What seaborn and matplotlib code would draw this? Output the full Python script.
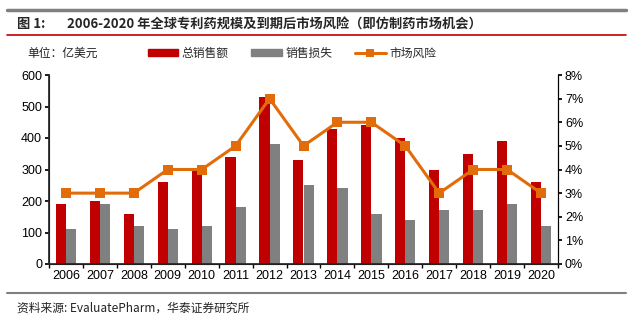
import numpy as np
import pandas as pd
import matplotlib
matplotlib.use("Agg")
import matplotlib.pyplot as plt
import seaborn as sns
from matplotlib.patches import Patch
from matplotlib.lines import Line2D

years = ["2006", "2007", "2008", "2009", "2010", "2011", "2012", "2013",
         "2014", "2015", "2016", "2017", "2018", "2019", "2020"]
total_sales = [190, 200, 160, 260, 300, 340, 530, 330, 430, 440, 400, 300, 350, 390, 260]
sales_loss = [110, 190, 120, 110, 120, 180, 380, 250, 240, 160, 140, 170, 170, 190, 120]
market_risk = [3, 3, 3, 4, 4, 5, 7, 5, 6, 6, 5, 3, 4, 4, 3]
series_names = ["总销售额", "销售损失", "市场风险"]

sns.set_theme(style="white")
plt.rcParams['font.family'] = ['Liberation Sans', 'Noto Sans CJK SC', 'DejaVu Sans']
cjk = ['Noto Sans CJK SC', 'DejaVu Sans']

RED = "#C00000"
GRAY = "#808080"
ORANGE = "#E36C0A"

df = pd.DataFrame({
    "year": years * 2,
    "value": total_sales + sales_loss,
    "series": [series_names[0]] * len(years) + [series_names[1]] * len(years),
})

fig = plt.figure(figsize=(6.33, 3.23), dpi=100)
ax = fig.add_axes([49 / 633, 1 - 264 / 323, (558 - 49) / 633, (264 - 75) / 323])

sns.barplot(data=df, x="year", y="value", hue="series", palette=[RED, GRAY],
            width=0.6, gap=0, ax=ax, legend=False, saturation=1, linewidth=0)
ax.set_ylim(0, 600)
ax.set_xlim(-0.5, len(years) - 0.5)
ax.set_yticks(range(0, 601, 100))
ax.set_xlabel("")
ax.set_ylabel("")
ax.tick_params(axis='y', which='major', length=3, direction='out', left=True,
               labelsize=9, pad=2, colors='black')
ax.tick_params(axis='x', which='major', length=0, labelsize=9, pad=4, colors='black')
ax.set_xticks(np.arange(-0.5, len(years), 1), minor=True)
ax.tick_params(axis='x', which='minor', length=3, direction='out', bottom=True, color='black')
ax.spines["top"].set_visible(False)
for s in ["left", "bottom", "right"]:
    ax.spines[s].set_color("black")
    ax.spines[s].set_linewidth(0.8)

ax2 = ax.twinx()
sns.lineplot(x=np.arange(len(years)), y=market_risk, ax=ax2, color=ORANGE,
             linewidth=2.2, marker='s', markersize=7, markeredgewidth=0, legend=False)
ax2.set_ylim(0, 8)
ax2.set_yticks(range(0, 9))
ax2.set_yticklabels([f"{v}%" for v in range(0, 9)])
ax2.tick_params(axis='y', length=3, direction='out', right=True, labelsize=9, pad=2, colors='black')
ax2.spines["top"].set_visible(False)
ax2.spines["right"].set_color("black")
ax2.spines["right"].set_linewidth(0.8)
ax2.set_ylabel("")
ax2.set_xlim(-0.5, len(years) - 0.5)

# header / footer rules
fig.add_artist(Line2D([7 / 633, 626 / 633], [1 - 10 / 323] * 2, color="#808080", linewidth=2.5))
fig.add_artist(Line2D([7 / 633, 626 / 633], [1 - 35 / 323] * 2, color="#C00000", linewidth=1.2))
fig.add_artist(Line2D([7 / 633, 626 / 633], [1 - 293 / 323] * 2, color="#808080", linewidth=1.5))

fig.text(17 / 633, 1 - 24 / 323, "图 1:", fontsize=9.5, fontweight='bold', family=cjk, va='center')
fig.text(67 / 633, 1 - 24 / 323, "2006-2020 年全球专利药规模及到期后市场风险（即仿制药市场机会）",
         fontsize=9.5, fontweight='bold', family=cjk, va='center')
fig.text(27 / 633, 1 - 53 / 323, "单位：亿美元", fontsize=8.5, family=cjk, va='center', color="#222222")

handles = [Patch(color=RED), Patch(color=GRAY),
           Line2D([0], [0], color=ORANGE, linewidth=2.2, marker='s', markersize=6, markeredgewidth=0)]
leg = fig.legend(handles, series_names, loc='center', bbox_to_anchor=(292 / 633, 1 - 53 / 323),
                 ncol=3, frameon=False, prop={'family': cjk, 'size': 8.5},
                 handlelength=2.6, handleheight=0.6, columnspacing=1.9, handletextpad=0.3)

fig.text(17 / 633, 1 - 308 / 323, "资料来源: EvaluatePharm，华泰证券研究所", fontsize=8.5,
         style='italic', family=cjk, va='center', color="#222222")

fig.savefig("out.png", dpi=100)
